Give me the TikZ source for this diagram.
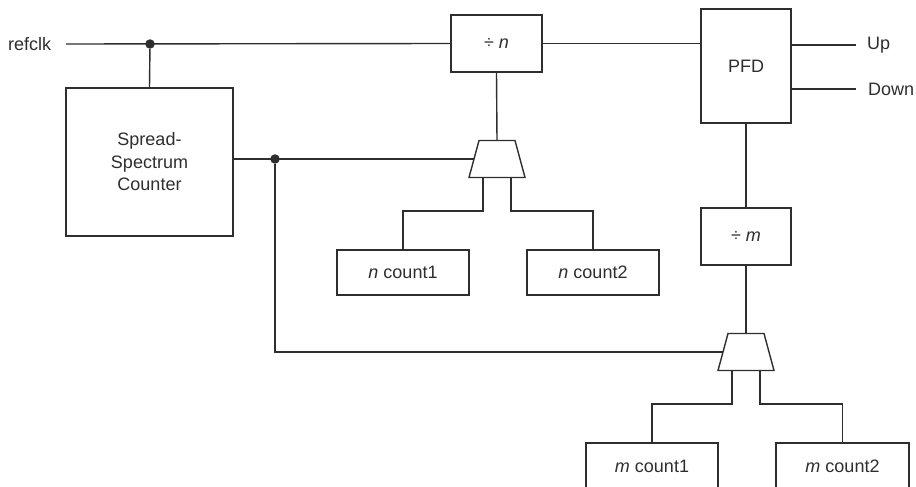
\documentclass[tikz,border=0pt]{standalone}
\usepackage{fontspec}
\setmainfont{Liberation Sans}
\definecolor{ink}{HTML}{2E2E2E}
\begin{document}
\begin{tikzpicture}[x=1pt,y=-1pt,
  every node/.style={text=ink},
  wire/.style={draw=ink,line width=1.4pt},
  blk/.style={draw=ink,line width=1.4pt,rectangle,inner sep=0pt,align=center,font=\fontsize{18}{22.5}\selectfont},
  lbl/.style={inner sep=0pt,font=\fontsize{18}{22.5}\selectfont},
  muxshape/.style={draw=ink,line width=1.4pt,line join=miter},
  jdot/.style={circle,fill=ink,inner sep=0pt,minimum size=9.5pt}]
\useasboundingbox (0,0) rectangle (916,487);
\clip (0,0) rectangle (916,487);
% blocks
\node[blk,minimum width=167pt,minimum height=148pt] (ssc) at (149.5,162) {Spread-\\Spectrum\\Counter};
\node[blk,minimum width=91pt,minimum height=57pt] (divn) at (496.5,43.5) {÷ \textit{n}};
\node[blk,minimum width=90pt,minimum height=114pt] (pfd) at (746,66) {PFD};
\node[blk,minimum width=90pt,minimum height=57pt] (divm) at (746,236.5) {÷ \textit{m}};
\node[blk,minimum width=132pt,minimum height=45pt] (nc1) at (403,272.5) {\textit{n} count1};
\node[blk,minimum width=132pt,minimum height=45pt] (nc2) at (593,272.5) {\textit{n} count2};
\node[blk,minimum width=132pt,minimum height=46pt] (mc1) at (652,466) {\textit{m} count1};
\node[blk,minimum width=133pt,minimum height=46pt] (mc2) at (842.5,466) {\textit{m} count2};
% multiplexers (trapezoids), with named ports
\foreach \nm/\cx/\cy in {muxn/497/159, muxm/746/352}{
  \draw[muxshape] (\cx-18,\cy-18.5) -- (\cx+18,\cy-18.5) -- (\cx+28,\cy+18.5) -- (\cx-28,\cy+18.5) -- cycle;
  \coordinate (\nm-top) at (\cx,\cy-18.5);
  \coordinate (\nm-in) at (\cx-23,\cy);
  \coordinate (\nm-o1) at (\cx-14,\cy+18.5);
  \coordinate (\nm-o2) at (\cx+14,\cy+18.5);
}
% labels
\node[lbl,anchor=west] (refclk) at (8,44) {refclk};
\coordinate (rin) at (66,44);
\node[lbl,anchor=west,inner xsep=11pt] (up) at (856,45) {Up};
\node[lbl,anchor=west,inner xsep=12pt] (down) at (856,89) {Down};
% junction dots
\node[jdot] (d1) at (150,44) {};
\node[jdot] (d2) at (275,159) {};
% wires
\draw[wire] (rin) -- (divn.west);
\draw[wire] (d1) -- (ssc.north);
\draw[wire] (divn.east) -- (divn.east -| pfd.west);
\draw[wire] (up.west -| pfd.east) -- (up.west);
\draw[wire] (down.west -| pfd.east) -- (down.west);
\draw[wire] (pfd.south) -- (divm.north);
\draw[wire] (divm.south) -- (muxm-top);
\draw[wire] (divn.south) -- (muxn-top);
\draw[wire] (d2 -| ssc.east) -- (muxn-in);
\draw[wire] (d2) |- (muxm-in);
\draw[wire] (muxn-o1) -- ++(0,33.5) -| (nc1.north);
\draw[wire] (muxn-o2) -- ++(0,33.5) -| (nc2.north);
\draw[wire] (muxm-o1) -- ++(0,33.5) -| (mc1.north);
\draw[wire] (muxm-o2) -- ++(0,33.5) -| (mc2.north);
\end{tikzpicture}
\end{document}
